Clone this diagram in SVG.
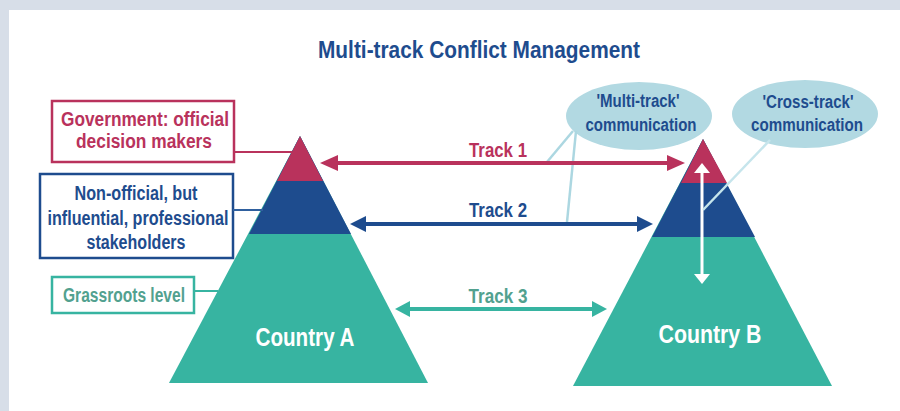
<svg xmlns="http://www.w3.org/2000/svg" width="900" height="411" viewBox="0 0 900 411">
<defs>
<style>
text{font-family:"Liberation Sans",Arial,sans-serif;font-weight:bold;text-anchor:middle;}
.red{fill:#b9325c}.blue{fill:#1e4c8e}.teal{fill:#37b4a1}.grass{fill:#52a18f}
.box{fill:#fff;stroke-width:2.5}
.lbl{font-size:19.5px}
.ell{fill:#b2d9e2}
.etx{font-size:18px;fill:#1e4c8e}
.trk{font-size:21px}
.cty{font-size:25px;fill:#fff}
.conn{stroke:#acd7e1;stroke-width:2.5;fill:none}
</style>
<marker id="ahR" markerUnits="userSpaceOnUse" markerWidth="20" markerHeight="18" viewBox="0 -9 20 18" refX="0" refY="0" orient="auto-start-reverse"><path d="M0,-8 L18,0 L0,8 z" fill="#b9325c"/></marker>
<marker id="ahB" markerUnits="userSpaceOnUse" markerWidth="20" markerHeight="18" viewBox="0 -9 20 18" refX="0" refY="0" orient="auto-start-reverse"><path d="M0,-8 L16,0 L0,8 z" fill="#1e4c8e"/></marker>
<marker id="ahT" markerUnits="userSpaceOnUse" markerWidth="20" markerHeight="18" viewBox="0 -9 20 18" refX="0" refY="0" orient="auto-start-reverse"><path d="M0,-8 L15,0 L0,8 z" fill="#37b4a1"/></marker>
<marker id="ahW" markerUnits="userSpaceOnUse" markerWidth="12" markerHeight="18" viewBox="0 -9 12 18" refX="0" refY="0" orient="auto-start-reverse"><path d="M0,-8 L10,0 L0,8 z" fill="#fff"/></marker>
</defs>
<rect x="0" y="0" width="900" height="411" fill="#d7dee8"/>
<rect x="9" y="10" width="891" height="401" fill="#fff"/>
<text x="479" y="58" font-size="24" class="blue" textLength="322" lengthAdjust="spacingAndGlyphs">Multi-track Conflict Management</text>

<g id="countryA">
<polygon points="300,136 169,383 428,383" class="teal"/>
<polygon points="300,136 249,234 351,234" class="blue"/>
<polygon points="300,136 277,181 323,181" class="red"/>
<text x="305" y="346" class="cty" textLength="99" lengthAdjust="spacingAndGlyphs">Country A</text>
</g>

<g id="countryB">
<polygon points="703,139 573,386 832,386" class="teal"/>
<polygon points="703,139 652,237 755,237" class="blue"/>
<polygon points="703,139 681,183 727,183" class="red"/>
<text x="710" y="343" class="cty" textLength="103" lengthAdjust="spacingAndGlyphs">Country B</text>
</g>

<g id="label-gov">
<rect x="52" y="101" width="182" height="61" class="box" stroke="#b9325c"/>
<text x="145" y="126" class="lbl red" textLength="168" lengthAdjust="spacingAndGlyphs">Government: official</text>
<text x="144" y="148" class="lbl red" textLength="136" lengthAdjust="spacingAndGlyphs">decision makers</text>
</g>

<g id="label-nonofficial">
<rect x="40" y="174" width="193" height="84" class="box" stroke="#1e4c8e"/>
<text x="136" y="200" class="lbl blue" textLength="123" lengthAdjust="spacingAndGlyphs">Non-official, but</text>
<text x="138" y="225" class="lbl blue" textLength="181" lengthAdjust="spacingAndGlyphs">influential, professional</text>
<text x="136" y="249" class="lbl blue" textLength="99" lengthAdjust="spacingAndGlyphs">stakeholders</text>
</g>

<g id="label-grass">
<rect x="52" y="277" width="142" height="36" class="box" stroke="#37b4a1"/>
<text x="124" y="302" class="lbl grass" textLength="122" lengthAdjust="spacingAndGlyphs">Grassroots level</text>
</g>

<g id="ellipse-multi">
<ellipse cx="639" cy="116" rx="73" ry="34" class="ell"/>
<text x="638" y="107" class="etx" textLength="83" lengthAdjust="spacingAndGlyphs">'Multi-track'</text>
<text x="641" y="131" class="etx" textLength="111" lengthAdjust="spacingAndGlyphs">communication</text>
</g>

<g id="ellipse-cross">
<ellipse cx="805" cy="114" rx="73" ry="34" class="ell"/>
<text x="808" y="108" class="etx" textLength="91" lengthAdjust="spacingAndGlyphs">'Cross-track'</text>
<text x="807" y="131" class="etx" textLength="112" lengthAdjust="spacingAndGlyphs">communication</text>
</g>

<g id="connectors">
<line x1="234" y1="152" x2="292" y2="152" stroke="#b9325c" stroke-width="2"/>
<line x1="233" y1="210" x2="263" y2="210" stroke="#2f609e" stroke-width="2"/>
<line x1="194" y1="291" x2="218" y2="291" stroke="#37b4a1" stroke-width="2"/>
<line x1="573" y1="131" x2="547" y2="162" class="conn"/>
<line x1="576" y1="131" x2="567" y2="222" class="conn"/>
<line x1="338" y1="163" x2="667" y2="163" stroke="#b9325c" stroke-width="4" marker-start="url(#ahR)" marker-end="url(#ahR)"/>
<line x1="366" y1="224" x2="637" y2="224" stroke="#1e4c8e" stroke-width="4" marker-start="url(#ahB)" marker-end="url(#ahB)"/>
<line x1="410" y1="309" x2="592" y2="309" stroke="#37b4a1" stroke-width="4" marker-start="url(#ahT)" marker-end="url(#ahT)"/>
<line x1="702" y1="173" x2="702" y2="274" stroke="#fff" stroke-width="3" marker-start="url(#ahW)" marker-end="url(#ahW)"/>
<line x1="770" y1="140" x2="703" y2="210" stroke="#c6e5ec" stroke-width="2.5"/>
<text x="498" y="157" class="trk red" textLength="58" lengthAdjust="spacingAndGlyphs">Track 1</text>
<text x="498" y="217" class="trk blue" textLength="58" lengthAdjust="spacingAndGlyphs">Track 2</text>
<text x="498" y="303" class="trk grass" textLength="59" lengthAdjust="spacingAndGlyphs">Track 3</text>
</g>
</svg>
